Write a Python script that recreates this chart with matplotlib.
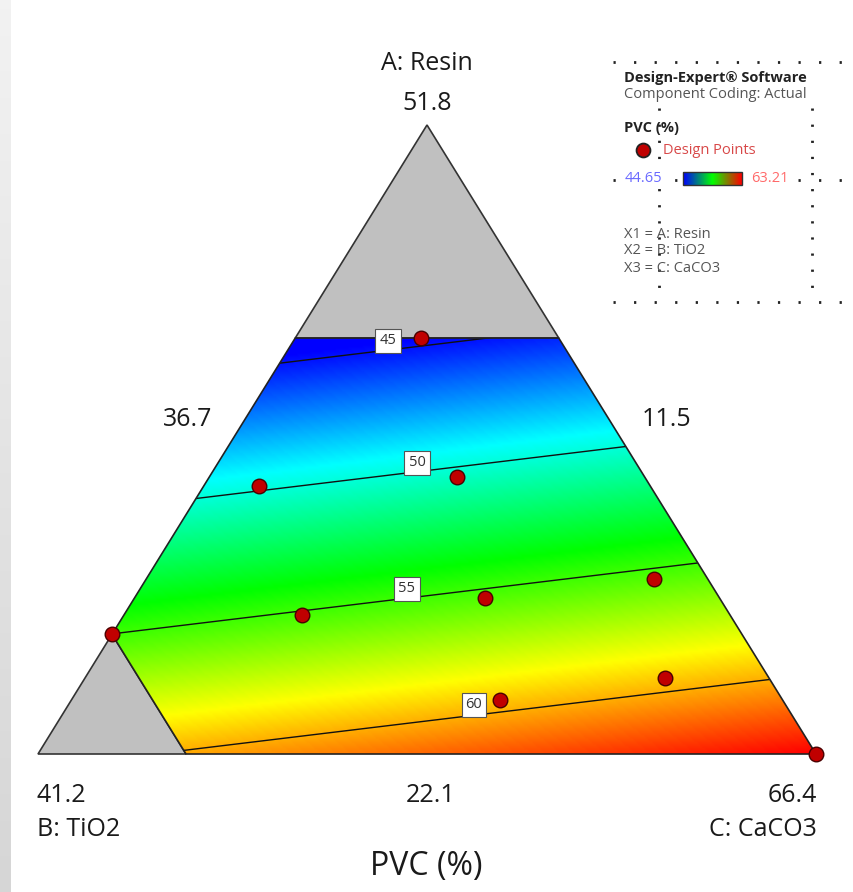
import numpy as np
import matplotlib.pyplot as plt
from matplotlib.colors import LinearSegmentedColormap
from matplotlib.patches import Polygon

# component ranges (actual units), low value of each + common span
a_lo, b_lo, c_lo = 22.1, 11.5, 36.7
a_hi, b_hi, c_hi = 51.8, 41.2, 66.4
span = a_hi - a_lo

# extra constraints that cut the simplex
resin_max = 41.74
tio2_max = 35.55

# linear mixture model (pseudo components)
coef_a, coef_b, coef_c = 36.2, 59.44, 63.2
pvc_min, pvc_max = 44.65, 63.21
levels = [45, 50, 55, 60]

# design points (actual amounts)
resin = [41.74, 34.75, 35.18, 27.77, 28.66, 29.47, 30.36, 25.69, 24.65, 22.1]
tio2 = [16.76, 26.43, 18.66, 35.53, 27.84, 20.45, 13.55, 15.47, 22.29, 11.5]
caco3 = [41.50, 38.82, 46.16, 36.70, 43.50, 50.08, 56.09, 58.84, 53.06, 66.4]

# layout: triangle corners in figure pixels
VA = (427, 125)
VB = (38, 754)
VC = (816, 754)


def to_xy(A, B, C):
    a = (np.asarray(A) - a_lo) / span
    b = (np.asarray(B) - b_lo) / span
    c = (np.asarray(C) - c_lo) / span
    x = a * VA[0] + b * VB[0] + c * VC[0]
    y = a * VA[1] + b * VB[1] + c * VC[1]
    return x, y


def xy_to_pseudo(x, y):
    a = (VB[1] - y) / (VB[1] - VA[1])
    c = (x - VB[0] - a * (VA[0] - VB[0])) / (VC[0] - VB[0])
    return a, 1 - a - c, c


def pts(rows):
    xs, ys = to_xy(*np.array(rows).T)
    return np.column_stack([xs, ys])


plt.rcParams['font.family'] = ['Open Sans', 'DejaVu Sans']
fig = plt.figure(figsize=(8.54, 8.92), dpi=100)
ax = fig.add_axes([0, 0, 1, 1])
ax.set_xlim(0, 854)
ax.set_ylim(892, 0)
ax.axis('off')

# grey strip on the left edge
strip = np.linspace(0, 1, 100).reshape(-1, 1)
ax.imshow(strip, extent=(0, 11, 892, 0), cmap=LinearSegmentedColormap.from_list('g', ['#f2f2f2', '#d6d6d6']),
          aspect='auto', zorder=0)

cmap = LinearSegmentedColormap.from_list('dx', ['#0000ff', '#00ffff', '#00ff00', '#ffff00', '#ff0000'])

# infeasible corners in grey
top_grey = pts([[a_hi, b_lo, c_lo],
                [resin_max, 100 - resin_max - c_lo, c_lo],
                [resin_max, b_lo, 100 - resin_max - b_lo]])
left_grey = pts([[a_lo, b_hi, c_lo],
                 [100 - tio2_max - c_lo, tio2_max, c_lo],
                 [a_lo, tio2_max, 100 - a_lo - tio2_max]])
for g in (top_grey, left_grey):
    ax.add_patch(Polygon(g, closed=True, fc='#c0c0c0', ec='#333333', lw=1.2, zorder=1))

feasible = pts([[resin_max, 100 - resin_max - c_lo, c_lo],
                [resin_max, b_lo, 100 - resin_max - b_lo],
                [a_lo, b_lo, c_hi],
                [a_lo, tio2_max, 100 - a_lo - tio2_max],
                [100 - tio2_max - c_lo, tio2_max, c_lo]])
region = Polygon(feasible, closed=True, fc='none', ec='#222222', lw=1.2, zorder=4)
ax.add_patch(region)

# response surface
gx = np.linspace(30, 830, 500)
gy = np.linspace(110, 770, 420)
X, Y = np.meshgrid(gx, gy)
pa, pb, pc = xy_to_pseudo(X, Y)
Z = coef_a * pa + coef_b * pb + coef_c * pc
im = ax.imshow(Z, extent=(gx[0], gx[-1], gy[-1], gy[0]), origin='upper', cmap=cmap,
               vmin=pvc_min, vmax=pvc_max, aspect='auto', interpolation='bilinear', zorder=2)
im.set_clip_path(region)
cs = ax.contour(X, Y, Z, levels=levels, colors='#111111', linewidths=1.0, zorder=3)
cs.set_clip_path(region)

# contour labels
label_pos = {45: (388, 341), 50: (417, 463), 55: (407, 589), 60: (474, 705)}
for lev in levels:
    ax.text(*label_pos[lev], str(lev), fontsize=10.5, color='#333333', ha='center', va='center', zorder=6,
            bbox=dict(boxstyle='square,pad=0.28', fc='white', ec='#555555', lw=0.8))

# design points
dx, dy = to_xy(resin, tio2, caco3)
ax.plot(dx, dy, 'o', ms=10.5, mfc='#c00000', mec='#4a0000', mew=1.0, zorder=7, clip_on=False)

# triangle labels
fs = 18
ax.text(427, 64, 'A: Resin', fontsize=fs, ha='center', va='center', color='#1a1a1a')
ax.text(427, 103, f'{a_hi:.1f}', fontsize=fs, ha='center', va='center', color='#1a1a1a')
ax.text(188, 420, f'{c_lo:.1f}', fontsize=fs, ha='center', va='center', color='#1a1a1a')
ax.text(667, 420, f'{b_lo:.1f}', fontsize=fs, ha='center', va='center', color='#1a1a1a')
ax.text(37, 795, f'{b_hi:.1f}', fontsize=fs, ha='left', va='center', color='#1a1a1a')
ax.text(37, 829, 'B: TiO2', fontsize=fs, ha='left', va='center', color='#1a1a1a')
ax.text(431, 795, f'{a_lo:.1f}', fontsize=fs, ha='center', va='center', color='#1a1a1a')
ax.text(817, 795, f'{c_hi:.1f}', fontsize=fs, ha='right', va='center', color='#1a1a1a')
ax.text(817, 829, 'C: CaCO3', fontsize=fs, ha='right', va='center', color='#1a1a1a')
ax.text(426, 867, 'PVC (%)', fontsize=23, ha='center', va='center', color='#1a1a1a')

# legend block
dots = dict(color='#222222', lw=2.0, ls=(0, (0.8, 6.6)), zorder=5)
ax.plot([613, 854], [62, 62], **dots)
ax.plot([613, 854], [302, 302], **dots)
ax.plot([613, 854], [180, 180], **dots)
vdots = dict(color='#222222', lw=2.0, ls=(0, (0.8, 5.0)), zorder=5)
ax.plot([659, 659], [108, 300], **vdots)
ax.plot([812, 812], [108, 300], **vdots)

lx = 624
lfs = 10.5
ax.text(lx, 78, 'Design-Expert® Software', fontsize=lfs, fontweight='bold', color='#222222', va='center', zorder=6)
ax.text(lx, 95, 'Component Coding: Actual', fontsize=lfs, color='#555555', va='center', zorder=6)
ax.text(lx, 128, 'PVC (%)', fontsize=lfs, fontweight='bold', color='#222222', va='center', zorder=6)
ax.plot([643], [150], 'o', ms=10, mfc='#c00000', mec='#222222', mew=1.3, zorder=7)
ax.text(663, 151, 'Design Points', fontsize=lfs, color='#d84848', va='center', zorder=6)
ax.text(625, 179, f'{pvc_min:.2f}', fontsize=lfs, color='#6a6aff', va='center', zorder=6,
        bbox=dict(fc='white', ec='none', pad=0.5))
ax.text(751, 179, f'{pvc_max:.2f}', fontsize=lfs, color='#ff6a6a', va='center', zorder=6,
        bbox=dict(fc='white', ec='none', pad=0.5))
bar = np.linspace(pvc_min, pvc_max, 100).reshape(1, -1)
ax.imshow(bar, extent=(683, 742, 185, 172), cmap=LinearSegmentedColormap.from_list('b', ['#0000ff', '#00ff00', '#ff0000']),
          aspect='auto', zorder=6)
ax.add_patch(Polygon([[683, 172], [742, 172], [742, 185], [683, 185]], closed=True, fc='none', ec='#333333',
                     lw=1.0, zorder=7))
ax.text(lx, 235, 'X1 = A: Resin', fontsize=lfs, color='#555555', va='center', zorder=6)
ax.text(lx, 251, 'X2 = B: TiO2', fontsize=lfs, color='#555555', va='center', zorder=6)
ax.text(lx, 268, 'X3 = C: CaCO3', fontsize=lfs, color='#555555', va='center', zorder=6)

fig.savefig('out.png', dpi=100)
